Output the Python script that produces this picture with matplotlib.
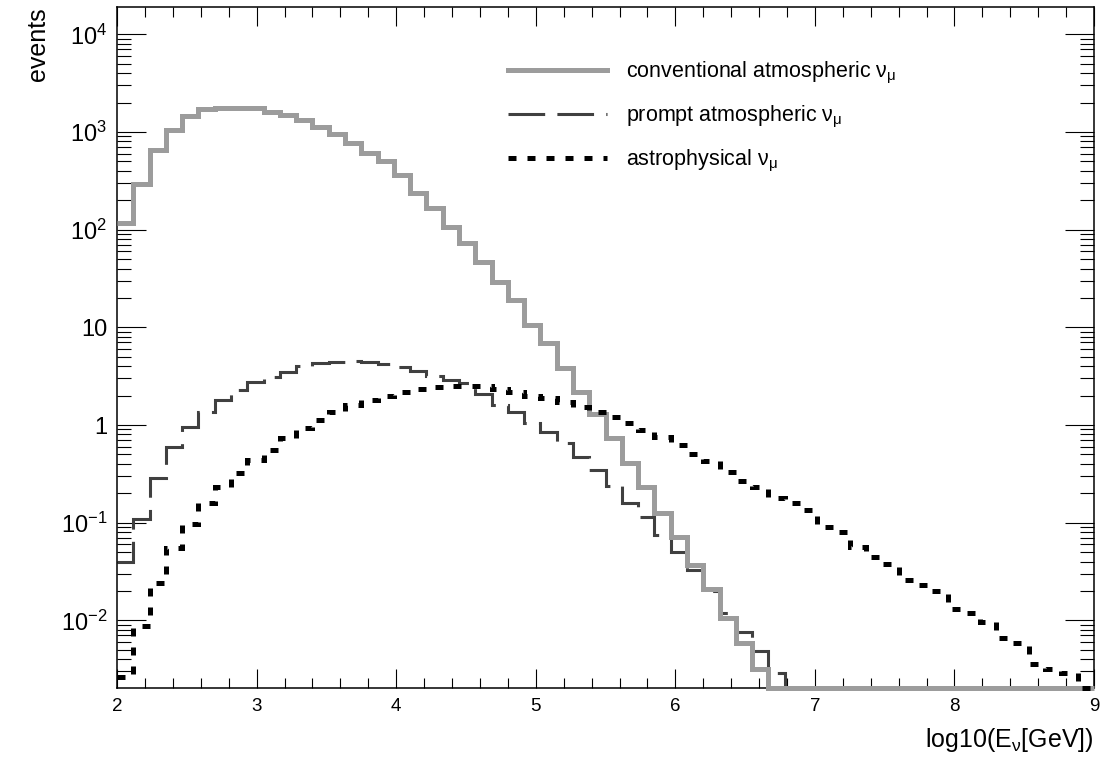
import numpy as np
import matplotlib
matplotlib.use("Agg")
import matplotlib.pyplot as plt
from matplotlib.ticker import MultipleLocator, LogLocator, NullFormatter

plt.rcParams['font.family'] = ['Liberation Sans', 'DejaVu Sans']
plt.rcParams['mathtext.fontset'] = 'custom'
plt.rcParams['mathtext.rm'] = 'Liberation Sans'
plt.rcParams['mathtext.it'] = 'Liberation Sans'
plt.rcParams['mathtext.bf'] = 'Liberation Sans:bold'

# binning: 60 bins in log10(E/GeV) between 2 and 9
x_min, x_max, n_bins = 2.0, 9.0, 60

# events per bin (0 = empty bin)
conventional = [117, 293, 650, 1050, 1450, 1710, 1780, 1780, 1760, 1590,
                1490, 1320, 1130, 950, 770, 610, 500, 360, 237, 166,
                107, 73, 47, 29, 19, 10.5, 6.9, 3.8, 2.2, 1.3,
                0.74, 0.41, 0.23, 0.126, 0.071, 0.037, 0.021, 0.0105, 0.0059, 0.0032,
                0, 0, 0, 0, 0, 0, 0, 0, 0, 0,
                0, 0, 0, 0, 0, 0, 0, 0, 0, 0]
prompt = [0.040, 0.11, 0.29, 0.60, 0.95, 1.36, 1.8, 2.28, 2.75, 3.1,
          3.5, 4.0, 4.3, 4.4, 4.5, 4.4, 4.2, 3.9, 3.6, 3.2,
          2.9, 2.7, 2.1, 1.6, 1.36, 1.05, 0.85, 0.65, 0.47, 0.35,
          0.24, 0.16, 0.115, 0.075, 0.05, 0.033, 0.02, 0.012, 0.0076, 0.0048,
          0.0029, 0, 0, 0, 0, 0, 0, 0, 0, 0,
          0, 0, 0, 0, 0, 0, 0, 0, 0, 0]
astro = [0.0026, 0.0088, 0.024, 0.055, 0.097, 0.16, 0.23, 0.32, 0.44, 0.55,
         0.73, 0.93, 1.12, 1.36, 1.6, 1.8, 2.0, 2.2, 2.35, 2.45,
         2.5, 2.5, 2.5, 2.35, 2.2, 2.0, 1.9, 1.7, 1.53, 1.36,
         1.2, 1.05, 0.89, 0.75, 0.63, 0.50, 0.43, 0.33, 0.27, 0.23,
         0.18, 0.16, 0.135, 0.091, 0.080, 0.056, 0.045, 0.038, 0.026, 0.023,
         0.020, 0.013, 0.012, 0.0097, 0.0066, 0.0059, 0.0036, 0.0032, 0.0029, 0]

labels = [r'conventional atmospheric $\nu_{\mu}$',
          r'prompt atmospheric $\nu_{\mu}$',
          r'astrophysical $\nu_{\mu}$']

y_ticks = [1e-2, 1e-1, 1, 10, 1e2, 1e3, 1e4]
y_ticklabels = [r'$10^{-2}$', r'$10^{-1}$', '1', '10', r'$10^{2}$', r'$10^{3}$', r'$10^{4}$']
y_lo, y_hi = 0.00203, 1.9e4

edges = np.linspace(x_min, x_max, n_bins + 1)


def floor(vals):
    # empty bins are drawn on the bottom of the frame, as ROOT does
    v = np.asarray(vals, dtype=float)
    return np.where(v > 0, v, y_lo)


fig = plt.figure(figsize=(11.04, 7.65), dpi=100)
ax = fig.add_axes([0.106, 0.1007, 0.885, 0.89])

ax.stairs(floor(prompt), edges, baseline=None, color='#404040', lw=2.2,
          linestyle=(0, (12, 4)), label=labels[1], zorder=2, clip_on=False)
ax.stairs(floor(conventional), edges, baseline=None, color='#9c9c9c', lw=3.6,
          label=labels[0], zorder=3, clip_on=False)
ax.stairs(floor(astro), edges, baseline=None, color='black', lw=3.6,
          linestyle=(0, (1.6, 2.2)), label=labels[2], zorder=4, clip_on=False)

ax.set_yscale('log')
ax.set_xlim(x_min, x_max)
ax.set_ylim(y_lo, y_hi)

ax.xaxis.set_major_locator(MultipleLocator(1))
ax.xaxis.set_minor_locator(MultipleLocator(0.2))
ax.set_yticks(y_ticks)
ax.set_yticklabels(y_ticklabels)
ax.yaxis.set_minor_locator(LogLocator(base=10, subs=np.arange(2, 10)))
ax.yaxis.set_minor_formatter(NullFormatter())

ax.tick_params(axis='both', which='both', direction='in', top=True, right=True)
ax.tick_params(axis='x', which='major', length=14, width=0.8, labelsize=13.5, pad=7)
ax.tick_params(axis='x', which='minor', length=7, width=0.8)
ax.tick_params(axis='y', which='major', length=21, width=0.8, labelsize=17, pad=7)
ax.tick_params(axis='y', which='minor', length=10, width=0.8)
for s in ax.spines.values():
    s.set_linewidth(1.1)

ax.set_xlabel(r'log10(E$_{\nu}$[GeV])', fontsize=18, loc='right', labelpad=8)
ax.set_ylabel('events', fontsize=18, loc='top', labelpad=8)

h, l = ax.get_legend_handles_labels()
order = [1, 0, 2]
ax.legend([h[i] for i in order], [l[i] for i in order], loc='upper left',
          bbox_to_anchor=(0.40, 0.923), frameon=False, fontsize=15.5,
          handlelength=4.6, handletextpad=0.9, labelspacing=0.85,
          borderpad=0, borderaxespad=0)

fig.savefig('out.png', dpi=100)
